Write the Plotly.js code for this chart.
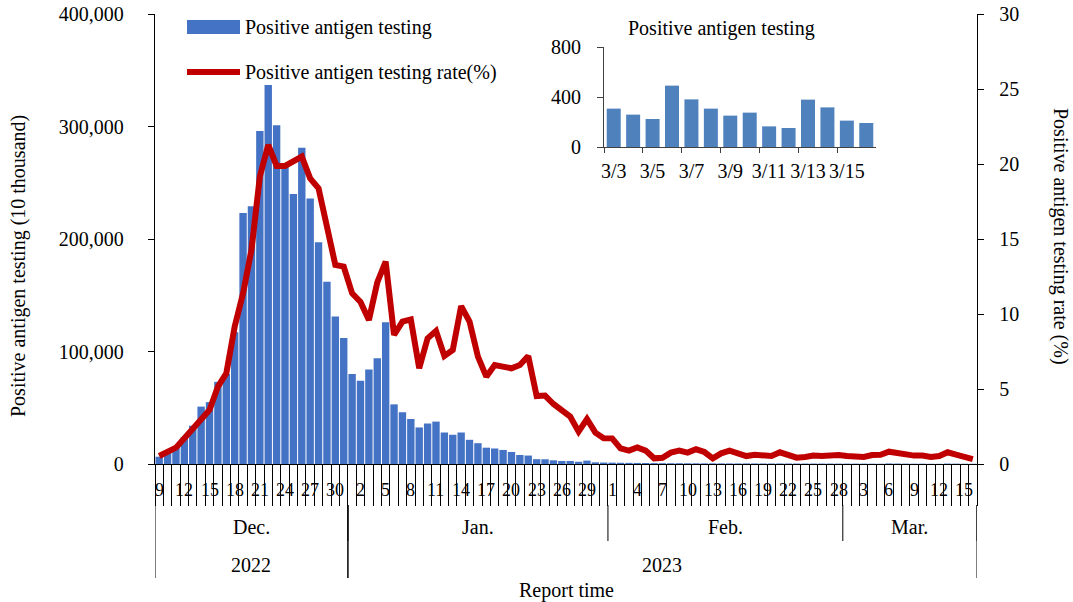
<!DOCTYPE html>
<html><head><meta charset="utf-8">
<script src="https://cdn.plot.ly/plotly-3.0.1.min.js"></script>
<style>html,body{margin:0;padding:0;background:#fff}#chart{width:1073px;height:602px}</style>
</head><body><div id="chart"></div>
<script>
// ---- categories: report dates (Dec 9, 2022 – Mar 16, 2023) ----
const monthSegments = [
  {year: "2022", month: "Dec.", num: 12, first: 9, last: 31},
  {year: "2023", month: "Jan.", num: 1, first: 1, last: 31},
  {year: "2023", month: "Feb.", num: 2, first: 1, last: 28},
  {year: "2023", month: "Mar.", num: 3, first: 1, last: 16}
];
const dates = [], dayNums = [], monthOf = [], yearOf = [];
monthSegments.forEach(s => {
  for (let d = s.first; d <= s.last; d++) {
    dates.push(s.year + "-" + String(s.num).padStart(2, "0") + "-" + String(d).padStart(2, "0"));
    dayNums.push(String(d)); monthOf.push(s.month); yearOf.push(s.year);
  }
});

// ---- series: positive antigen tests (count) ----
const positiveDec = [6500,10000,15000,24000,34000,51000,55000,73000,80000,117000,223000,229000,296000,337000,301000,265000,240000,281000,236000,197000,162000,131000,112000];
const positiveJan = [80000,74000,84000,94000,126000,53000,46000,40000,32500,36000,37700,28000,26000,28000,21500,18500,14500,13800,12500,10700,8000,7500,4300,4200,3300,2700,2700,2000,3000,1500,1300];
const positiveFeb = [1200,1100,1000,950,880,800,720,680,700,640,600,560,590,540,520,500,530,480,460,440,470,430,420,400,390,380,370,350];
const positiveMar = [330,320,307,259,224,491,381,307,251,275,165,152,379,317,211,192];
const positiveCounts = positiveDec.concat(positiveJan, positiveFeb, positiveMar);

// ---- series: positive antigen testing rate (%) ----
const positiveRate = [0.53,0.82,1.09,1.71,2.38,2.93,3.6,5.16,6.04,9.16,
  11.38,14.27,19.16,21.27,19.87,19.87,20.16,20.49,19.04,18.38,
  15.82,13.27,13.16,11.38,10.8,9.6,12.1,13.49,8.6,9.49,
  9.64,6.38,8.38,8.87,7.2,7.6,10.53,9.49,7.16,5.82,
  6.6,6.44,6.38,6.6,7.2,4.53,4.56,4.0,3.56,3.16,
  2.16,3.0,2.09,1.72,1.71,1.04,0.89,1.11,0.89,0.38,
  0.42,0.76,0.89,0.76,0.98,0.8,0.38,0.71,0.89,0.71,
  0.53,0.62,0.62,0.53,0.78,0.62,0.42,0.47,0.56,0.53,
  0.6,0.6,0.53,0.47,0.47,0.6,0.62,0.82,0.71,0.67,
  0.56,0.56,0.47,0.53,0.78,0.62,0.47,0.33];

// ---- inset: March 3 – March 16 ----
const insetLabels = ["3/3","3/4","3/5","3/6","3/7","3/8","3/9","3/10","3/11","3/12","3/13","3/14","3/15","3/16"];
const insetCounts = positiveMar.slice(2);

// ---- text ----
const barName = "Positive antigen testing";
const lineName = "Positive antigen testing rate(%)";
const insetTitle = "Positive antigen testing";
const leftTitle = "Positive antigen testing (10 thousand)";
const rightTitle = "Positive antigen testing rate (%)";
const xTitle = "Report time";

// ---- layout helpers (pixel -> paper) ----
const W = 1073, H = 602, ML = 155, MR = 96, MT = 14, MB = 10;
const PW = W - ML - MR, PH = H - MT - MB;
const px = v => (v - ML) / PW;
const py = v => (H - MB - v) / PH;
const FONT = "'Times New Roman', 'Liberation Serif', serif";
const BLUE = "#4472C4", RED = "#C00000";

const traces = [
  {type: "bar", x: dates, y: positiveCounts, name: barName, width: 0.88,
   marker: {color: BLUE}, xaxis: "x", yaxis: "y", showlegend: false, hoverinfo: "skip"},
  {type: "scatter", mode: "lines", x: dates, y: positiveRate, name: lineName,
   line: {color: RED, width: 6}, xaxis: "x", yaxis: "y2", showlegend: false, hoverinfo: "skip"},
  {type: "bar", x: insetLabels, y: insetCounts, name: insetTitle, width: 0.72,
   marker: {color: "#4F81BD"}, xaxis: "x3", yaxis: "y3", showlegend: false, hoverinfo: "skip"}
];

const annotations = [];
const shapes = [];
// day labels every 3 days
dayNums.forEach((d, i) => {
  if (i % 3 === 0) annotations.push({x: i, xref: "x", y: py(490), yref: "paper", text: d,
    showarrow: false, font: {family: FONT, size: 18, color: "#000"}, xanchor: "center", yanchor: "middle"});
});
// month & year group labels and separators
function groups(arr) {
  const g = []; let s = 0;
  for (let i = 1; i <= arr.length; i++) {
    if (i === arr.length || arr[i] !== arr[s]) { g.push({label: arr[s], start: s, end: i - 1}); s = i; }
  }
  return g;
}
const monthGroups = groups(monthOf.map((m, i) => yearOf[i] + m));
monthGroups.forEach(g => {
  annotations.push({x: (g.start + g.end) / 2, xref: "x", y: py(527), yref: "paper", text: monthOf[g.start],
    showarrow: false, font: {family: FONT, size: 20, color: "#000"}, xanchor: "center", yanchor: "middle"});
  shapes.push({type: "line", xref: "x", yref: "paper", x0: g.end + 0.5, x1: g.end + 0.5,
    y0: py(505), y1: py(541), line: {color: "#000", width: 1}});
});
const yearGroups = groups(yearOf);
yearGroups.forEach(g => {
  annotations.push({x: (g.start + g.end) / 2, xref: "x", y: py(565), yref: "paper", text: g.label,
    showarrow: false, font: {family: FONT, size: 20, color: "#000"}, xanchor: "center", yanchor: "middle"});
  [g.start - 0.5, g.end + 0.5].forEach(b => shapes.push({type: "line", xref: "x", yref: "paper",
    x0: b, x1: b, y0: py(505), y1: py(578), line: {color: "#000", width: 1}}));
});
annotations.push({x: px(566), xref: "paper", y: py(590), yref: "paper", text: xTitle, showarrow: false,
  font: {family: FONT, size: 20, color: "#000"}, xanchor: "center", yanchor: "middle"});
// axis titles
annotations.push({x: px(18), xref: "paper", y: py(266), yref: "paper", text: leftTitle, showarrow: false,
  textangle: -90, font: {family: FONT, size: 20, color: "#000"}, xanchor: "center", yanchor: "middle"});
annotations.push({x: px(1061), xref: "paper", y: py(236), yref: "paper", text: rightTitle, showarrow: false,
  textangle: 90, font: {family: FONT, size: 20, color: "#000"}, xanchor: "center", yanchor: "middle"});
// inset title
annotations.push({x: px(721), xref: "paper", y: py(28), yref: "paper", text: insetTitle, showarrow: false,
  font: {family: FONT, size: 20, color: "#000"}, xanchor: "center", yanchor: "middle"});
// legend (custom)
shapes.push({type: "rect", xref: "paper", yref: "paper", x0: px(187), x1: px(240), y0: py(34), y1: py(20),
  fillcolor: BLUE, line: {width: 0}});
shapes.push({type: "line", xref: "paper", yref: "paper", x0: px(187), x1: px(240), y0: py(72), y1: py(72),
  line: {color: RED, width: 6}});
annotations.push({x: px(243), xref: "paper", y: py(27), yref: "paper", text: barName, showarrow: false,
  xanchor: "left", yanchor: "middle", font: {family: FONT, size: 20, color: "#000"}});
annotations.push({x: px(243), xref: "paper", y: py(72), yref: "paper", text: lineName, showarrow: false,
  xanchor: "left", yanchor: "middle", font: {family: FONT, size: 20, color: "#000"}});

const tickFont = {family: FONT, size: 20, color: "#000"};
const layout = {
  width: W, height: H,
  margin: {l: ML, r: MR, t: MT, b: MB, pad: 0},
  paper_bgcolor: "#fff", plot_bgcolor: "rgba(0,0,0,0)",
  showlegend: false,
  font: {family: FONT, color: "#000"},
  xaxis: {type: "category", anchor: "y", domain: [0, 1], range: [-0.5, dates.length - 0.5],
    tickmode: "linear", tick0: 0, dtick: 1, tickson: "boundaries", ticks: "outside", ticklen: 41,
    tickcolor: "#000", tickwidth: 1, showticklabels: false, showline: true, linecolor: "#000", linewidth: 1.3,
    showgrid: false, zeroline: false, fixedrange: true},
  yaxis: {anchor: "x", domain: [py(464), 1], range: [0, 400000], tickvals: [0, 100000, 200000, 300000, 400000],
    tickformat: ",", ticks: "outside", ticklen: 6, tickcolor: "#000", showline: true, linecolor: "#000",
    linewidth: 1.3, showgrid: false, zeroline: false, tickfont: tickFont, ticklabelstandoff: 20},
  yaxis2: {overlaying: "y", side: "right", anchor: "x", range: [0, 30], tickvals: [0, 5, 10, 15, 20, 25, 30],
    ticks: "outside", ticklen: 6, tickcolor: "#000", showline: true, linecolor: "#000", linewidth: 1.3,
    showgrid: false, zeroline: false, tickfont: tickFont, ticklabelstandoff: 11},
  xaxis3: {type: "category", anchor: "y3", domain: [px(604), px(876)], range: [-0.5, insetLabels.length - 0.5],
    tickmode: "linear", tick0: 0, dtick: 2, tickson: "boundaries", ticks: "outside", ticklen: 5,
    tickangle: 0, tickcolor: "#404040", showline: true, linecolor: "#404040", linewidth: 1, showgrid: false,
    zeroline: false, tickfont: tickFont, ticklabelstandoff: 6},
  yaxis3: {anchor: "x3", domain: [py(147), py(47)], range: [0, 800], tickvals: [0, 400, 800],
    ticks: "outside", ticklen: 6, tickcolor: "#404040", showline: true, linecolor: "#404040", linewidth: 1,
    showgrid: false, zeroline: false, tickfont: tickFont, ticklabelstandoff: 12},
  annotations: annotations,
  shapes: shapes
};

Plotly.newPlot("chart", traces, layout, {displayModeBar: false, staticPlot: true});
</script></body></html>
